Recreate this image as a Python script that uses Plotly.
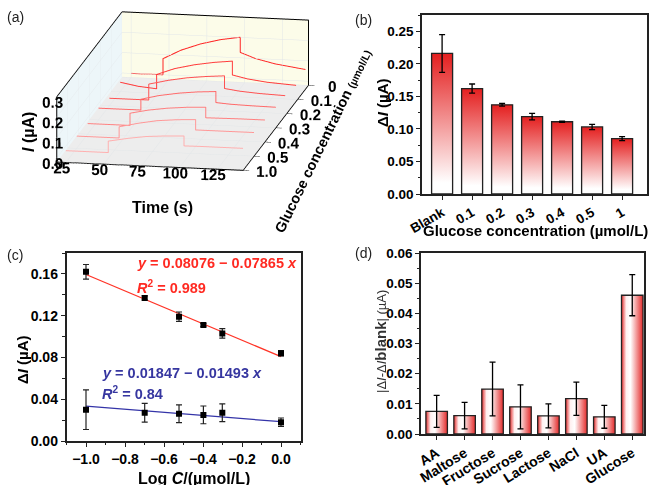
import plotly.graph_objects as go

W, H = 650, 485
FONT = "Liberation Sans"

# ---------------- (a) i-t curves (time s, current uA), front (1.0) -> back (0)
conc_labels_a = ['1.0', '0.5', '0.4', '0.3', '0.2', '0.1', '0']
t_c10 = [25, 53, 53, 66, 78, 91, 103, 103, 113, 126, 142]
i_c10 = [0.038, 0.038, 0.094, 0.112, 0.125, 0.132, 0.136, 0.087, 0.088, 0.088, 0.088]
t_c05 = [25, 53, 53, 66, 78, 91, 103.5, 103.5, 113, 126, 142]
i_c05 = [0.040, 0.040, 0.095, 0.117, 0.133, 0.142, 0.147, 0.096, 0.096, 0.096, 0.096]
t_c04 = [25, 53, 53, 65, 78, 90, 103, 103, 113, 125, 142]
i_c04 = [0.032, 0.032, 0.092, 0.111, 0.125, 0.133, 0.138, 0.086, 0.087, 0.088, 0.088]
t_c03 = [25, 53, 53, 65, 78, 90, 102.5, 102.5, 112, 125, 142]
i_c03 = [0.038, 0.038, 0.091, 0.113, 0.129, 0.139, 0.145, 0.091, 0.086, 0.083, 0.081]
t_c02 = [25, 51, 51, 64, 76, 89, 101, 101, 111, 124, 141]
i_c02 = [0.017, 0.017, 0.095, 0.118, 0.134, 0.145, 0.152, 0.090, 0.080, 0.073, 0.068]
t_c01 = [25, 37, 49, 49, 61, 74, 87, 99, 99, 109, 122, 141]
i_c01 = [0.026, 0.010, 0.002, 0.072, 0.105, 0.128, 0.144, 0.154, 0.086, 0.070, 0.058, 0.049]
t_c00 = [25, 46, 46, 58, 71, 84, 97, 97, 107, 120, 140]
i_c00 = [0.000, 0.000, 0.079, 0.125, 0.160, 0.185, 0.201, 0.127, 0.100, 0.078, 0.057]
curves_t = [t_c10, t_c05, t_c04, t_c03, t_c02, t_c01, t_c00]
curves_i = [i_c10, i_c05, i_c04, i_c03, i_c02, i_c01, i_c00]
curve_colors = ['#ffb0b0', '#ff9898', '#ff8080', '#ff6a6a', '#ff5252', '#ff3c3c', '#ff2424']

# ---------------- (b) response vs glucose concentration
b_labels = ['Blank', '0.1', '0.2', '0.3', '0.4', '0.5', '1']
b_values = [0.216, 0.162, 0.137, 0.119, 0.111, 0.103, 0.085]
b_errors = [0.029, 0.007, 0.002, 0.005, 0.001, 0.004, 0.003]

# ---------------- (c) calibration
c_logc = [-1.0, -0.699, -0.523, -0.398, -0.301, 0.0]
c_red = [0.162, 0.137, 0.119, 0.111, 0.103, 0.084]
c_red_err = [0.007, 0.002, 0.0045, 0.0015, 0.0045, 0.0025]
c_blue = [0.030, 0.027, 0.026, 0.025, 0.027, 0.018]
c_blue_err = [0.019, 0.009, 0.0085, 0.0085, 0.0085, 0.004]
red_fit = (0.08076, -0.07865)
blue_fit = (0.01847, -0.01493)

# ---------------- (d) selectivity
d_labels = ['AA', 'Maltose', 'Fructose', 'Sucrose', 'Lactose', 'NaCl', 'UA', 'Glucose']
d_values = [0.0075, 0.0061, 0.0149, 0.0090, 0.0060, 0.0117, 0.0057, 0.0460]
d_errors = [0.0053, 0.0044, 0.0089, 0.0073, 0.0040, 0.0055, 0.0038, 0.0068]


def px2dom_x(a, b):
    return [a / W, b / W]


def px2dom_y(top, bottom):
    return [1 - bottom / H, 1 - top / H]


fig = go.Figure()
tickf = dict(family=FONT, size=13.5, color='black', weight='bold')
titlef = dict(family=FONT, size=15, color='black', weight='bold')
frame = dict(showline=True, linecolor='#222', linewidth=1.5, mirror=True, automargin=False,
             ticks='outside', ticklen=4, tickwidth=1.3, tickcolor='#222',
             showgrid=False, zeroline=False)

# ---- (a) 3D scene
for t, cur, k, col in zip(curves_t, curves_i, range(len(curves_t)), curve_colors):
    fig.add_trace(go.Scatter3d(x=t, y=[k] * len(t), z=cur, mode='lines',
                               line=dict(color=col, width=2), showlegend=False,
                               hoverinfo='skip', scene='scene'))

ax3 = dict(showbackground=True, gridcolor='#e2e6e8', gridwidth=1, showline=True, mirror=True,
           linecolor='black', linewidth=2, ticks='outside', ticklen=6, tickcolor='black',
           tickangle=0, title=dict(text=''),
           tickfont=dict(family=FONT, size=13.5, color='black', weight='bold'),
           showspikes=False, zeroline=False)
fig.update_layout(scene=dict(
    domain=dict(x=px2dom_x(0, 400), y=px2dom_y(0, 240)),
    xaxis=dict(ax3, range=[19, 142], tickvals=[25, 50, 75, 100, 125], backgroundcolor='#edf6f9'),
    yaxis=dict(ax3, range=[0, 6], tickvals=list(range(7)), ticktext=conc_labels_a,
               backgroundcolor='#fcfce9', ticklen=5),
    zaxis=dict(ax3, range=[-0.02, 0.3], tickvals=[0, 0.1, 0.2, 0.3], ticktext=['0.0', '0.1', '0.2', '0.3'],
               backgroundcolor='#ededed'),
    aspectmode='manual', aspectratio=dict(x=1.58, y=3.0, z=0.56),
    camera=dict(eye=dict(x=0.8575, y=-3.849, z=0.7269), center=dict(x=0.1531, y=-0.0306, z=-0.2339),
                up=dict(x=0, y=0, z=1), projection=dict(type='orthographic')),
    bgcolor='rgba(0,0,0,0)'))

# ---- (b) gradient bars
bw = 0.7
for k, v in enumerate(b_values):
    fig.add_trace(go.Scatter(x=[k - bw / 2, k - bw / 2, k + bw / 2, k + bw / 2, k - bw / 2],
                             y=[0, v, v, 0, 0], mode='lines', fill='toself',
                             fillgradient=dict(type='vertical',
                                               colorscale=[[0, '#ffffff'], [0.08, '#ffffff'], [1, '#e41f1f']]),
                             line=dict(color='#222', width=1.3), xaxis='x', yaxis='y',
                             showlegend=False, hoverinfo='skip'))
fig.add_trace(go.Scatter(x=list(range(len(b_values))), y=b_values, mode='markers',
                         marker=dict(size=1, color='rgba(0,0,0,0)'),
                         error_y=dict(type='data', array=b_errors, color='black', thickness=1.3, width=3),
                         xaxis='x', yaxis='y', showlegend=False, hoverinfo='skip'))

# ---- (c) calibration
for vals, errs, fit, col in [(c_red, c_red_err, red_fit, '#ff3326'), (c_blue, c_blue_err, blue_fit, '#3434a8')]:
    xs = [c_logc[0], c_logc[-1]]
    fig.add_trace(go.Scatter(x=xs, y=[fit[0] + fit[1] * xx for xx in xs], mode='lines',
                             line=dict(color=col, width=1.3), xaxis='x2', yaxis='y2',
                             showlegend=False, hoverinfo='skip'))
    fig.add_trace(go.Scatter(x=c_logc, y=vals, mode='markers',
                             marker=dict(symbol='square', size=6, color='black'),
                             error_y=dict(type='data', array=errs, color='#222', thickness=1.2, width=3),
                             xaxis='x2', yaxis='y2', showlegend=False, hoverinfo='skip'))

# ---- (d) selectivity bars, horizontal gradient
dw = 0.77
for k, v in enumerate(d_values):
    fig.add_trace(go.Scatter(x=[k - dw / 2, k - dw / 2, k + dw / 2, k + dw / 2, k - dw / 2],
                             y=[0, v, v, 0, 0], mode='lines', fill='toself',
                             fillgradient=dict(type='horizontal',
                                               colorscale=[[0, '#e42a2a'], [0.22, '#fff0f0'], [0.42, '#ffffff'],
                                                           [1, '#e42a2a']]),
                             line=dict(color='#222', width=1.3), xaxis='x3', yaxis='y3',
                             showlegend=False, hoverinfo='skip'))
fig.add_trace(go.Scatter(x=list(range(len(d_values))), y=d_values, mode='markers',
                         marker=dict(size=1, color='rgba(0,0,0,0)'),
                         error_y=dict(type='data', array=d_errors, color='black', thickness=1.3, width=3),
                         xaxis='x3', yaxis='y3', showlegend=False, hoverinfo='skip'))

fig.update_layout(
    width=W, height=H, margin=dict(l=0, r=0, t=0, b=0, autoexpand=False),
    paper_bgcolor='white', plot_bgcolor='white',
    font=dict(family=FONT, color='black'),
    xaxis=dict(frame, domain=px2dom_x(422, 647), range=[-0.67, 6.83], tickvals=list(range(7)),
               ticktext=b_labels, tickangle=-30, tickfont=tickf, anchor='y'),
    yaxis=dict(frame, domain=px2dom_y(15, 194), range=[0, 0.275], tickvals=[0, 0.05, 0.1, 0.15, 0.2, 0.25],
               tickformat='.2f', tickfont=tickf, anchor='x',
               minor=dict(ticks='outside', ticklen=2.5, tickcolor='#222', dtick=0.025)),
    xaxis2=dict(frame, domain=px2dom_x(66.5, 300.5), range=[-1.1, 0.1], tickvals=[-1, -0.8, -0.6, -0.4, -0.2, 0],
                ticktext=['−1.0', '−0.8', '−0.6', '−0.4', '−0.2', '0.0'], tickfont=dict(tickf, size=14),
                anchor='y2', minor=dict(ticks='outside', ticklen=2.5, tickcolor='#222', dtick=0.1)),
    yaxis2=dict(frame, domain=px2dom_y(253, 441), range=[0, 0.18], tickvals=[0, 0.04, 0.08, 0.12, 0.16],
                tickformat='.2f', tickfont=dict(tickf, size=14), anchor='x2',
                minor=dict(ticks='outside', ticklen=2.5, tickcolor='#222', dtick=0.02)),
    xaxis3=dict(frame, domain=px2dom_x(421, 644), range=[-0.56, 7.42], tickvals=list(range(8)),
                ticktext=d_labels, tickangle=-32, tickfont=dict(tickf, size=14), anchor='y3'),
    yaxis3=dict(frame, domain=px2dom_y(253, 434), range=[0, 0.06], tickvals=[0, 0.01, 0.02, 0.03, 0.04, 0.05, 0.06],
                tickformat='.2f', tickfont=tickf, anchor='x3',
                minor=dict(ticks='outside', ticklen=2.5, tickcolor='#222', dtick=0.005)),
)

ann = []
for txt, x, y in [('(a)', 15, 17), ('(b)', 363, 20), ('(c)', 15, 255), ('(d)', 363, 253)]:
    ann.append(dict(text=txt, x=x / W, y=1 - y / H, xref='paper', yref='paper', showarrow=False,
                    font=dict(family=FONT, size=14, color='#222'), xanchor='center', yanchor='middle'))
# axis titles (3D scene and 2D panels)
for txt, x, y, ang, fnt in [
    ('Time (s)', 163, 207, 0, dict(titlef, size=16)),
    ('<i>I</i> (µA)', 29, 132, -90, dict(titlef, size=16)),
    ('Glucose concentration <span style="font-size:10.5px">(µmol/L)</span>', 323, 141, -64,
     dict(titlef, size=14.5)),
    ('Δ<i>I</i> (µA)', 382, 103, -90, titlef),
    ('Glucose concentration (µmol/L)', 535, 230, 0, titlef),
    ('Δ<i>I</i> (µA)', 22, 360, -90, titlef),
    ('Log <i>C</i>/(µmol/L)', 194, 478, 0, dict(titlef, size=16)),
    ('|Δ<i>I</i>-Δ<i>I</i><b><span style="font-size:15px">blank</span></b>| (µA)', 380, 342, -90,
     dict(family=FONT, size=13, color='#333')),
]:
    ann.append(dict(text=txt, x=x / W, y=1 - y / H, xref='paper', yref='paper', showarrow=False,
                    textangle=ang, font=fnt, xanchor='center', yanchor='middle'))
eqf_r = dict(family=FONT, size=14.5, color='#ff2a22', weight='bold')
eqf_b = dict(family=FONT, size=14.5, color='#3636a0', weight='bold')
ann += [
    dict(text='<i>y</i> = 0.08076 − 0.07865 <i>x</i>', x=-0.749, y=0.1705, xref='x2', yref='y2',
         showarrow=False, xanchor='left', yanchor='middle', font=eqf_r),
    dict(text='<i>R</i><sup>2</sup> = 0.989', x=-0.749, y=0.1475, xref='x2', yref='y2',
         showarrow=False, xanchor='left', yanchor='middle', font=eqf_r),
    dict(text='<i>y</i> = 0.01847 − 0.01493 <i>x</i>', x=-0.928, y=0.0651, xref='x2', yref='y2',
         showarrow=False, xanchor='left', yanchor='middle', font=eqf_b),
    dict(text='<i>R</i><sup>2</sup> = 0.84', x=-0.928, y=0.046, xref='x2', yref='y2',
         showarrow=False, xanchor='left', yanchor='middle', font=eqf_b),
]
fig.update_layout(annotations=ann)

fig.write_html("out.html", config={'displayModeBar': False},
               post_script="document.body.style.margin='0px';")
